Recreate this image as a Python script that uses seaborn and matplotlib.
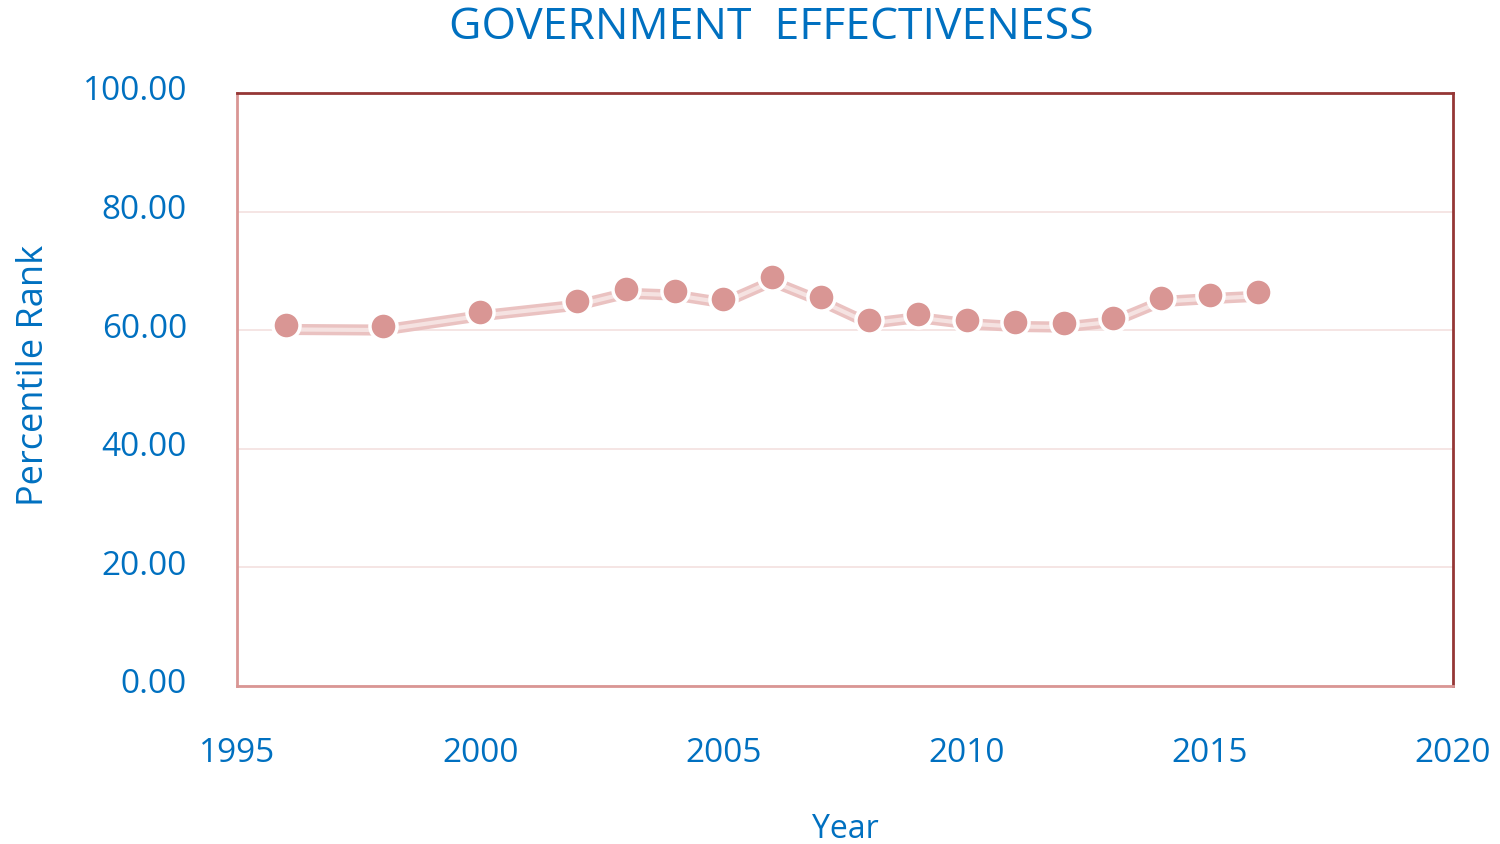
import matplotlib
matplotlib.use("Agg")
import matplotlib.pyplot as plt
import matplotlib.transforms as mtransforms
import seaborn as sns
import pandas as pd
from matplotlib.ticker import FormatStrFormatter, FixedLocator

years = [1996, 1998, 2000, 2002, 2003, 2004, 2005, 2006, 2007, 2008,
         2009, 2010, 2011, 2012, 2013, 2014, 2015, 2016]
percentile_rank = [60.8, 60.7, 63.1, 64.9, 66.9, 66.6, 65.3, 68.9, 65.6, 61.8,
                   62.8, 61.8, 61.3, 61.2, 62.1, 65.5, 66.0, 66.4]
x_ticks = [1995, 2000, 2005, 2010, 2015, 2020]
y_ticks = [0, 20, 40, 60, 80, 100]

df = pd.DataFrame({"Year": years, "Percentile Rank": percentile_rank})

sns.set_theme(style="white")
plt.rcParams["font.family"] = ["Open Sans", "DejaVu Sans"]

BLUE = "#0070c0"
MARK = "#d99694"

fig = plt.figure(figsize=(15, 8.45), dpi=100)
ax = fig.add_axes([237 / 1500, 1 - 687 / 845, (1453 - 237) / 1500, (687 - 94) / 845])

# soft ribbon-style connecting line, shifted slightly downward like a shadow
shift = mtransforms.ScaledTranslation(0, -4 / 100, fig.dpi_scale_trans)
sns.lineplot(data=df, x="Year", y="Percentile Rank", ax=ax, color="#eac2c1",
             linewidth=8, zorder=2, transform=ax.transData + shift)
sns.lineplot(data=df, x="Year", y="Percentile Rank", ax=ax, color="#f5e2e1",
             linewidth=3, zorder=2.1, transform=ax.transData + shift)
sns.scatterplot(data=df, x="Year", y="Percentile Rank", ax=ax, color=MARK,
                s=380, edgecolor="white", linewidth=2.5, zorder=3)

ax.set_xlim(x_ticks[0], x_ticks[-1])
ax.set_ylim(y_ticks[0], y_ticks[-1])
ax.xaxis.set_major_locator(FixedLocator(x_ticks))
ax.yaxis.set_major_locator(FixedLocator(y_ticks))
ax.yaxis.set_major_formatter(FormatStrFormatter("%.2f"))
ax.grid(axis="y", color="#f4e0df", linewidth=1.2, zorder=0)
ax.set_axisbelow(True)

for side, col in [("left", "#d99694"), ("bottom", "#d99694"),
                  ("top", "#953735"), ("right", "#953735")]:
    ax.spines[side].set_visible(True)
    ax.spines[side].set_color(col)
    ax.spines[side].set_linewidth(2)

ax.tick_params(axis="both", colors=BLUE, labelsize=24, length=0)
ax.tick_params(axis="x", pad=36)
ax.tick_params(axis="y", pad=36)

# y tick labels sit a little above their gridlines
lift = mtransforms.ScaledTranslation(0, 6 / 100, fig.dpi_scale_trans)
for lbl in ax.get_yticklabels():
    lbl.set_transform(lbl.get_transform() + lift)

ax.set_xlabel("Year", color=BLUE, fontsize=23, labelpad=31)
ax.set_ylabel("Percentile Rank", color=BLUE, fontsize=26)
ax.yaxis.set_label_coords(-0.152, 0.526)

fig.text(771 / 1500, 1 - 28 / 845, "GOVERNMENT  EFFECTIVENESS", color=BLUE,
         fontsize=32, ha="center", va="center")

fig.savefig("out.png", dpi=100, facecolor="white")
